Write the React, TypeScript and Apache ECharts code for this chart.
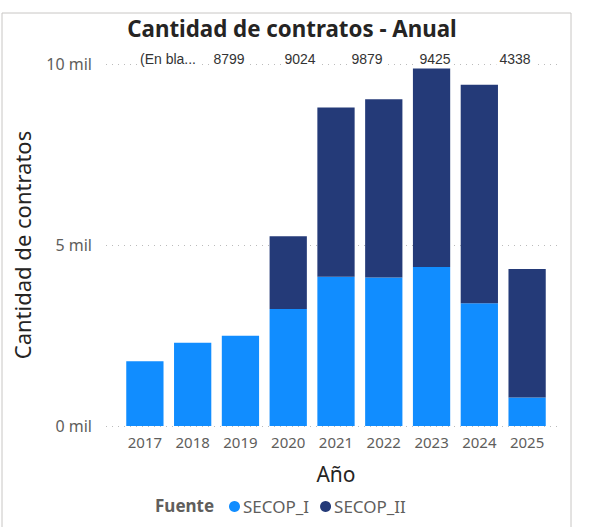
import React, { useEffect, useRef } from "react";
import * as echarts from "echarts";

const years = ["2017", "2018", "2019", "2020", "2021", "2022", "2023", "2024", "2025"];
const secopI = [1790, 2300, 2495, 3230, 4125, 4100, 4390, 3390, 790];
const secopII = [0, 0, 0, 2010, 4674, 4924, 5489, 6035, 3548];
const topLabels = ["(En bla...", "8799", "9024", "9879", "9425", "4338"];
const topLabelX = [168, 229, 300, 367, 435, 515];
const yTicks = [0, 5000, 10000];

const LIGHT = "#118DFF";
const DARK = "#243A78";

export default function App() {
  const ref = useRef<HTMLDivElement>(null);
  useEffect(() => {
    if (!ref.current) return;
    const chart = echarts.init(ref.current, undefined, { renderer: "svg" });
    const font = "'Noto Sans', sans-serif";
    chart.setOption({
      animation: false,
      backgroundColor: "#fff",
      title: {
        text: "Cantidad de contratos - Anual",
        left: 287,
        textAlign: "center",
        top: 12,
        textStyle: { fontFamily: font, fontWeight: "bold", fontSize: 22.3, color: "#252423" },
      },
      grid: [
        { left: 106, right: 38, top: 64, bottom: 101, outerBoundsMode: "none" },
        { left: 121, right: 47, top: 64, bottom: 101, outerBoundsMode: "none" },
      ],
      legend: {
        data: ["SECOP_I", "SECOP_II"],
        left: 229,
        top: 498,
        padding: 0,
        icon: "circle",
        itemWidth: 11,
        itemHeight: 11,
        itemGap: 11,
        textStyle: { fontFamily: font, fontSize: 17, color: "#605E5C", padding: [0, 0, 0, -2] },
      },
      xAxis: [
        { type: "category", gridIndex: 0, data: years, show: false },
        {
          type: "category",
          gridIndex: 1,
          data: years,
          axisLine: { show: false },
          axisTick: { show: false },
          axisLabel: { fontFamily: font, fontSize: 15, color: "#605E5C", margin: 8 },
          name: "Año",
          nameLocation: "middle",
          nameGap: 37,
          nameTextStyle: { fontFamily: font, fontSize: 21, color: "#252423" },
        },
      ],
      yAxis: [
        {
          type: "value",
          gridIndex: 0,
          min: yTicks[0],
          max: yTicks[yTicks.length - 1],
          interval: yTicks[1] - yTicks[0],
          axisLine: { show: false },
          axisTick: { show: false },
          axisLabel: {
            fontFamily: font,
            fontSize: 16,
            color: "#605E5C",
            margin: 14,
            formatter: (v: number) => `${v / 1000} mil`,
          },
          splitLine: { lineStyle: { type: [1, 5], color: "#BBBBBB", width: 1 } },
          name: "Cantidad de contratos",
          nameLocation: "middle",
          nameGap: 73,
          nameTextStyle: { fontFamily: font, fontSize: 22, color: "#252423" },
        },
        {
          type: "value",
          gridIndex: 1,
          min: yTicks[0],
          max: yTicks[yTicks.length - 1],
          show: false,
          splitLine: { show: false },
        },
      ],
      series: [
        {
          name: "SECOP_I",
          type: "bar",
          stack: "a",
          xAxisIndex: 1,
          yAxisIndex: 1,
          data: secopI,
          barCategoryGap: "22%",
          itemStyle: { color: LIGHT },
        },
        {
          name: "SECOP_II",
          type: "bar",
          stack: "a",
          xAxisIndex: 1,
          yAxisIndex: 1,
          data: secopII,
          barCategoryGap: "22%",
          itemStyle: { color: DARK },
        },
      ],
      graphic: [
        {
          type: "rect",
          shape: { x: 2, y: 13, width: 569, height: 530 },
          style: { fill: "none", stroke: "#C8C6C4", lineWidth: 1 },
          silent: true,
          z: -1,
        },
        {
          type: "text",
          left: 155,
          top: 497,
          style: { text: "Fuente", fontFamily: font, fontWeight: "bold", fontSize: 17, fill: "#605E5C" },
        },
        ...topLabels.map((t, i) => ({
          type: "text",
          x: topLabelX[i],
          y: 59,
          z: 10,
          style: {
            text: t,
            fontFamily: "'Liberation Sans', Arial, sans-serif",
            fontSize: 14,
            fill: "#333",
            align: "center",
            verticalAlign: "middle",
            backgroundColor: "#fff",
            padding: [2, 3],
          },
        })),
      ],
    });
    return () => chart.dispose();
  }, []);
  return (
    <div
      ref={ref}
      style={{ position: "absolute", left: 0, top: 0, width: 598, height: 527 }}
    />
  );
}
